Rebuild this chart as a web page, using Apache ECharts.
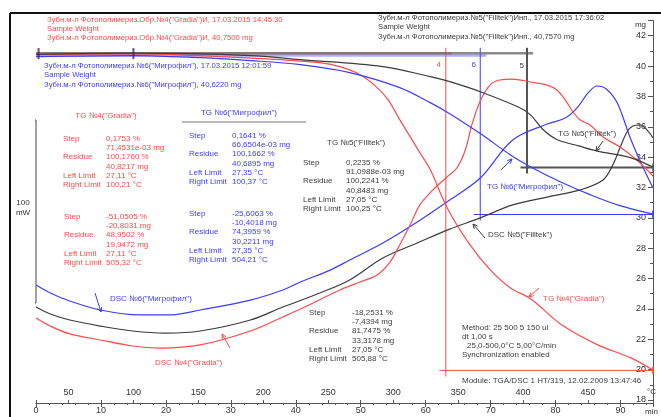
<!DOCTYPE html>
<html>
<head>
<meta charset="utf-8">
<script src="https://cdn.jsdelivr.net/npm/echarts@6/dist/echarts.min.js"></script>
<style>
  html, body { margin: 0; padding: 0; background: #fff; }
  #chart { width: 661px; height: 417px; }
</style>
</head>
<body>
<div id="chart"></div>
<script>
// --- TG curves (time in min, mass in mg) ---
var tgGradiaT = [0, 5, 15, 25, 37.6, 43.7, 46.8, 49.9, 52.2, 54.2, 56.0, 57.6, 59.1, 60.7, 63.3, 66.8, 69.9, 73.0, 76.1, 81.1, 86.4, 91.5, 95];
var tgGradiaMg = [40.75, 40.79, 40.82, 40.68, 40.42, 40.22, 39.96, 39.43, 38.71, 37.79, 36.47, 35.35, 34.30, 33.18, 30.67, 28.23, 26.59, 25.40, 24.68, 22.90, 21.65, 20.79, 19.98];

var tgMigT = [0, 15, 25.3, 33.0, 40.7, 48.3, 56.0, 60.7, 63.7, 68.4, 73.0, 76.1, 80.7, 85.3, 89.9, 95];
var tgMigMg = [40.62, 40.69, 40.55, 40.36, 40.09, 39.57, 38.58, 37.59, 36.86, 35.55, 34.16, 33.37, 32.38, 31.53, 30.80, 30.24];

var tgFillT = [0, 15, 33.0, 40.7, 53.4, 60.7, 63.7, 68.4, 74.1, 76.1, 78.1, 80.2, 83.7, 86.4, 91.5, 95];
var tgFillMg = [40.76, 40.85, 40.69, 40.42, 39.96, 39.30, 38.97, 38.31, 37.33, 36.80, 35.80, 35.16, 34.72, 34.40, 33.97, 33.34];

// --- DSC curves (time in min, heat flow in mW, arbitrary zero) ---
var dscMigT = [0, 2.2, 5.2, 9.9, 16.0, 20.6, 25.3, 33.0, 38.0, 40.7, 45.3, 48.3, 53.4, 58.7, 63.7, 68.4, 73.4, 78.7, 81.5, 83.3, 85.0, 86.4, 87.8, 89.5, 91.5, 93.3, 95];
var dscMigMw = [62.8, 58.5, 54.1, 49.2, 46.5, 46.5, 49.2, 54.6, 60.1, 64.5, 71.0, 76.5, 85.8, 97.3, 109.3, 121.3, 142.1, 150.8, 154.1, 159.6, 167.8, 171.6, 170.0, 162.3, 143.2, 128.4, 115.9];

var dscFillT = [0, 2.2, 5.2, 9.9, 14.9, 20.0, 25.3, 33.0, 38.0, 43.3, 48.3, 53.4, 58.7, 63.7, 68.4, 73.4, 78.7, 83.8, 87.3, 88.8, 89.9, 91.0, 91.9, 93.0, 94.1, 95];
var dscFillMw = [50.8, 47.0, 43.7, 40.4, 37.7, 36.6, 37.7, 43.7, 50.8, 57.9, 65.6, 77.6, 85.8, 93.4, 99.5, 106.6, 110.9, 114.8, 120.2, 128.4, 137.7, 146.5, 149.7, 150.3, 147.5, 143.2];

var dscGradiaT = [0, 2.2, 5.2, 9.9, 14.9, 19.1, 25.3, 33.0, 38.0, 40.7, 46.8, 49.9, 52.5, 54.5, 56.0, 57.6, 59.1, 61.1, 63.3, 64.8, 66.1, 67.1, 68.4, 69.9, 71.4, 73.4, 76.1, 78.7, 80.2, 81.5, 82.7, 83.8, 85.3, 87.3, 89.9, 92.5, 95];
var dscGradiaMw = [44.8, 40.4, 36.1, 32.8, 29.5, 28.4, 30.1, 37.7, 45.4, 49.7, 60.1, 64.5, 68.3, 75.4, 84.7, 95.6, 106.6, 114.8, 121.9, 126.8, 136.6, 150.3, 163.4, 172.1, 174.9, 175.4, 173.8, 172.1, 169.4, 163.9, 157.4, 153.0, 150.3, 143.7, 138.3, 131.2, 122.4];

// --- step evaluation (order: №4 Gradia, №6 Мигрофил, №5 Filltek) ---
var stepNames = ['4', '6', '5'];
var stepTime = [63.1, 68.4, 75.6];
var baseMg = [40.82, 40.69, 40.85];
var endMg = [19.95, 30.22, 33.32];
var limitTime = [0.4, 15];

// --- axis ticks ---
var timeTicks = [0, 10, 20, 30, 40, 50, 60, 70, 80, 90];
var tempTicks = [50, 100, 150, 200, 250, 300, 350, 400, 450];
var scaleBarMw = [53, 153];

// --- text blocks ---
var rowNames = ['Step', '', 'Residue', '', 'Left Limit', 'Right Limit'];
var gradia1 = ['0,1753 %', '71,4531e-03 mg', '100,1760 %', '40,8217 mg', '27,11 °C', '100,21 °C'];
var gradia2 = ['-51,0505 %', '-20,8031 mg', '48,9502 %', '19,9472 mg', '27,11 °C', '505,32 °C'];
var migro1 = ['0,1641 %', '66,6504e-03 mg', '100,1662 %', '40,6895 mg', '27,35 °C', '100,37 °C'];
var migro2 = ['-25,6063 %', '-10,4018 mg', '74,3959 %', '30,2211 mg', '27,35 °C', '504,21 °C'];
var fill1 = ['0,2235 %', '91,0988e-03 mg', '100,2241 %', '40,8483 mg', '27,05 °C', '100,25 °C'];
var fill2 = ['-18,2531 %', '-7,4394 mg', '81,7475 %', '33,3178 mg', '27,05 °C', '505,88 °C'];

var RED = '#ff4a4a', BLUE = '#3c3cff', BLACK = '#3c3c3c';
var FONT = 'Liberation Sans';

function zip(a, b) { return a.map(function (x, i) { return [x, b[i]]; }); }

function curve(name, t, v, color, yi) {
  return {
    name: name, type: 'line', yAxisIndex: yi, data: zip(t, v),
    smooth: 0.35, symbol: 'none', silent: true, z: 3,
    lineStyle: { color: color, width: 1.2 }
  };
}
function seg(data, color, w, yi) {
  return {
    type: 'line', yAxisIndex: yi || 0, data: data, symbol: 'none', clip: false,
    silent: true, z: 2, lineStyle: { color: color, width: w }
  };
}

var stepColors = [RED, BLUE, '#555'];
var baseColors = ['rgba(255,120,120,0.75)', 'rgba(130,130,255,0.65)', 'rgba(100,100,100,0.75)'];
var series = [
  curve('DSC №6', dscMigT, dscMigMw, BLUE, 1),
  curve('DSC №5', dscFillT, dscFillMw, BLACK, 1),
  curve('DSC №4', dscGradiaT, dscGradiaMw, RED, 1),
  curve('TG №4', tgGradiaT, tgGradiaMg, RED, 0),
  curve('TG №6', tgMigT, tgMigMg, BLUE, 0),
  curve('TG №5', tgFillT, tgFillMg, BLACK, 0),
  // 100 mW scale bar
  seg([[-0.6, scaleBarMw[0]], [0, scaleBarMw[0]], [0, scaleBarMw[1]], [-0.6, scaleBarMw[1]]], '#444', 1, 1)
];
stepTime.forEach(function (t, i) {
  var w = i === 2 ? 2 : 1;
  series.push(seg([[0, baseMg[i]], [t + 0.95, baseMg[i]]], baseColors[i], 2.5));
  series.push(seg([[t, 41.2], [t, endMg[i] - 0.4]], stepColors[i], w));
  series.push(seg([[t - 1, endMg[i]], [96.2, endMg[i]]], stepColors[i], w));
});
series.push({
  type: 'scatter', yAxisIndex: 0, symbol: 'rect', symbolSize: [2, 11], silent: true, z: 4,
  itemStyle: { color: '#4a2060' },
  data: limitTime.map(function (t) { return [t, baseMg[0]]; })
});
series.push({
  type: 'scatter', yAxisIndex: 0, symbol: 'rect', symbolSize: [2, 8], silent: true, z: 4, clip: false,
  data: endMg.map(function (m, i) { return { value: [95, m], itemStyle: { color: stepColors[i] } }; })
});

// ---- graphic texts ----
var g = [];
function txt(x, y, s, color, extra, size) {
  var o = { type: 'text', x: x, y: y, silent: true, z: 10,
    style: { text: s, fill: color, font: (size || 8) + 'px "' + FONT + '"', textVerticalAlign: 'middle' } };
  if (extra) for (var k in extra) o.style[k] = extra[k];
  g.push(o);
}
function line(x1, y1, x2, y2, color, w) {
  g.push({ type: 'line', silent: true, z: 10, shape: { x1: x1, y1: y1, x2: x2, y2: y2 },
    style: { stroke: color, lineWidth: w || 1 } });
}
function arrow(x1, y1, x2, y2, color) {
  line(x1, y1, x2, y2, color, 1);
  var a = Math.atan2(y2 - y1, x2 - x1), L = 5;
  line(x2, y2, x2 - L * Math.cos(a - 0.45), y2 - L * Math.sin(a - 0.45), color, 1);
  line(x2, y2, x2 - L * Math.cos(a + 0.45), y2 - L * Math.sin(a + 0.45), color, 1);
}
function block(xl, xv, y0, vals, color) {
  vals.forEach(function (v, i) {
    if (rowNames[i]) txt(xl, y0 + i * 9.1, rowNames[i], color);
    txt(xv, y0 + i * 9.1, v, color);
  });
}

// frame
line(10, 13, 661, 13, '#111', 2);
line(10, 13, 10, 417, '#111', 2);

// headers
var HS = 7.7;
txt(47, 20, 'Зубн.м-л Фотополимериз.Обр.№4("Gradia")И, 17.03.2015 14:45:30', RED, null, HS);
txt(47, 29, 'Sample Weight', RED, null, HS);
txt(47, 38, 'Зубн.м-л Фотополимериз.Обр.№4("Gradia")И, 40,7500 mg', RED, null, HS);
txt(44, 66, 'Зубн.м-л Фотополимериз.№6("Мигрофил"), 17.03.2015 12:01:59', BLUE, null, HS);
txt(44, 75, 'Sample Weight', BLUE, null, HS);
txt(44, 85, 'Зубн.м-л Фотополимериз.№6("Мигрофил"), 40,6220 mg', BLUE, null, HS);
txt(378, 18, 'Зубн.м-л Фотополимериз.№5("Filltek")Инп., 17.03.2015 17:36:02', BLACK, null, HS);
txt(378, 27, 'Sample Weight', BLACK, null, HS);
txt(378, 37, 'Зубн.м-л Фотополимериз.№5("Filltek")Инп., 40,7570 mg', BLACK, null, HS);

// evaluation tables
txt(106, 116, 'TG №4("Gradia")', RED, { textAlign: 'center' });
block(63, 106, 139, gradia1, RED);
block(64, 106, 217, gradia2, RED);
txt(239, 113, 'TG №6("Мигрофил")', BLUE, { textAlign: 'center' });
line(182, 122, 306, 122, '#777', 1);
block(189, 232, 136, migro1, BLUE);
block(189, 232, 214, migro2, BLUE);
txt(327, 143, 'TG №5("Filltek")', BLACK);
block(303, 346, 163, fill1, BLACK);
block(309, 352, 313, fill2, BLACK);

// method
txt(462, 328, 'Method: 25 500 5 150 ul', BLACK);
txt(462, 337, 'dt 1,00 s', BLACK);
txt(467, 346, '25,0-500,0°C 5,00°C/min', BLACK);
txt(462, 355, 'Synchronization enabled', BLACK);
txt(462, 381, 'Module: TGA/DSC 1 HT/319, 12.02.2009 13:47:46', BLACK);

// curve labels
txt(558, 134, 'TG №5("Filltek")', BLACK);
arrow(603, 141, 596, 151, BLACK);
txt(487, 187, 'TG №6("Мигрофил")', BLUE);
arrow(501, 170, 512, 159, BLUE);
txt(488, 235, 'DSC №5("Filltek")', BLACK);
arrow(485, 238, 473, 224, BLACK);
txt(543, 299, 'TG №4("Gradia")', RED);
arrow(539, 288, 529, 297, RED);
txt(110, 299, 'DSC №6("Мигрофил")', BLUE);
arrow(95, 293, 101, 312, BLUE);
txt(155, 363, 'DSC №4("Gradia")', RED);
arrow(230, 348, 222, 334, RED);

// step numbers
txt(441, 65, stepNames[0], RED, { textAlign: 'right' });
txt(476, 65, stepNames[1], BLUE, { textAlign: 'right' });
txt(524, 66, stepNames[2], BLACK, { textAlign: 'right' });

// scale bar and units
txt(23, 203, '100', '#333', { textAlign: 'center' });
txt(23, 213, 'mW', '#333', { textAlign: 'center' });
txt(646, 25, 'mg', '#333', { textAlign: 'right' });
txt(656, 392, '°C', '#333', { textAlign: 'right' });
txt(658, 412, 'min', '#333', { textAlign: 'right' });

var axisFont = { fontFamily: FONT, fontSize: 9, color: '#333' };

var option = {
  animation: false,
  backgroundColor: '#fff',
  grid: { left: 36, right: 8, top: 20.5, bottom: 17, containLabel: false },
  xAxis: [
    {
      type: 'value', position: 'bottom', offset: 3, min: 0, max: 95, interval: 10,
      axisLine: { show: true, onZero: false, lineStyle: { color: '#555' } },
      axisTick: { show: true, length: 4, lineStyle: { color: '#555' } },
      minorTick: { show: true, splitNumber: 5, length: 2, lineStyle: { color: '#555' } },
      splitLine: { show: false },
      axisLabel: Object.assign({ margin: 3, formatter: function (v) { return timeTicks.indexOf(v) >= 0 ? v : ''; } }, axisFont)
    },
    {
      type: 'value', position: 'bottom', offset: 3, min: 25, max: 500, interval: 25,
      axisLine: { show: false, onZero: false },
      axisTick: { show: true, inside: true, length: 3, lineStyle: { color: '#555' } },
      splitLine: { show: false },
      axisLabel: Object.assign({ inside: true, margin: 6, formatter: function (v) { return tempTicks.indexOf(v) >= 0 ? v : ''; } }, axisFont)
    }
  ],
  yAxis: [
    {
      type: 'value', position: 'right', min: 18, max: 43, interval: 2,
      axisLine: { show: true, onZero: false, lineStyle: { color: '#555' } },
      axisTick: { show: true, inside: true, length: 5, lineStyle: { color: '#555' } },
      minorTick: { show: true, splitNumber: 2, length: 3, lineStyle: { color: '#555' } },
      splitLine: { show: false },
      axisLabel: Object.assign({ inside: true, margin: 7, formatter: function (v) { return v % 2 === 0 ? v : ''; } }, axisFont)
    },
    {
      type: 'value', position: 'left', min: 0, max: 207.4,
      axisLine: { show: false, onZero: false }, axisTick: { show: false },
      axisLabel: { show: false }, splitLine: { show: false }
    }
  ],
  series: series,
  graphic: g
};

var chart = echarts.init(document.getElementById('chart'));
chart.setOption(option);
</script>
</body>
</html>
